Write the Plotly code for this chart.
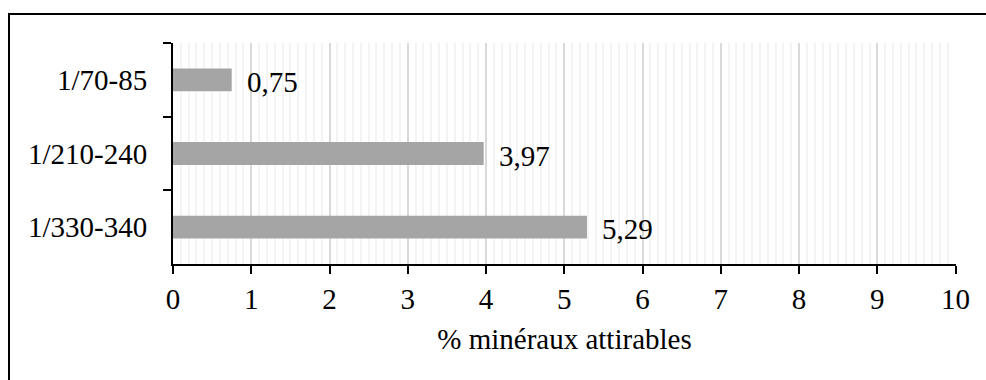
import plotly.graph_objects as go

# données (de haut en bas)
categories = ["1/70-85", "1/210-240", "1/330-340"]
values = [0.75, 3.97, 5.29]
x_ticks = list(range(0, 11))

FONT = "Liberation Serif"
FS = 29
W, H = 986, 380
L, R, T, B = 173, 30, 43, 116

fig = go.Figure()

fig.add_trace(go.Bar(
    x=values, y=categories, orientation="h",
    marker=dict(color="#a5a5a5", line=dict(width=0)),
    hoverinfo="skip", showlegend=False,
))

# étiquettes de valeurs (virgule décimale)
for v, c in zip(values, categories):
    fig.add_annotation(
        x=v, y=c, xref="x", yref="y",
        text=f"{v:.2f}".replace(".", ","),
        showarrow=False, xanchor="left", yanchor="middle",
        xshift=13, yshift=-2,
        font=dict(family=FONT, size=FS, color="black"),
    )

# cadre autour de la figure
pw, ph = W - L - R, H - T - B
fig.add_shape(
    type="rect", xref="paper", yref="paper",
    x0=(9 - L) / pw, x1=(W + 10 - L) / pw,
    y0=-(H + 10 - T - ph) / ph, y1=(ph + T - 14) / ph,
    line=dict(color="black", width=2), fillcolor="rgba(0,0,0,0)",
    layer="above",
)

fig.update_layout(
    width=W, height=H,
    margin=dict(l=L, r=R, t=T, b=B),
    paper_bgcolor="white", plot_bgcolor="white",
    bargap=0.69,
    font=dict(family=FONT, size=FS, color="black"),
    xaxis=dict(
        range=[0, 10.005], tickvals=x_ticks,
        showgrid=True, gridcolor="#d9d9d9", gridwidth=2,
        minor=dict(dtick=0.1, showgrid=True, gridcolor="#f4f4f4", gridwidth=2),
        showline=True, linecolor="black", linewidth=2,
        ticks="outside", ticklen=8, tickwidth=2, tickcolor="black",
        zeroline=False,
        title=dict(text="% minéraux attirables", standoff=15,
                   font=dict(family=FONT, size=FS)),
        tickfont=dict(family=FONT, size=FS),
    ),
    yaxis=dict(
        autorange="reversed", type="category",
        showgrid=False, zeroline=False,
        showline=True, linecolor="black", linewidth=2,
        ticks="outside", ticklen=8, tickwidth=2, tickcolor="black",
        tickson="boundaries", ticklabelstandoff=18,
        tickfont=dict(family=FONT, size=FS),
    ),
)

fig.write_html("out.html", config={"displayModeBar": False},
               post_script="document.body.style.margin='0';")
